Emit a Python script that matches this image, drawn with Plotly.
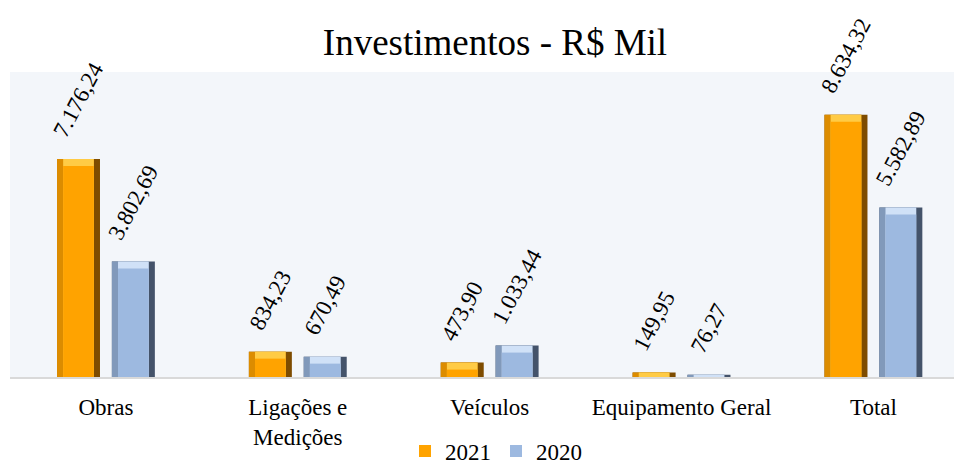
import plotly.graph_objects as go

# dados
categorias = ["Obras", "Ligações e<br>Medições", "Veículos", "Equipamento Geral", "Total"]
valores_2021 = [7176.24, 834.23, 473.90, 149.95, 8634.32]
valores_2020 = [3802.69, 670.49, 1033.44, 76.27, 5582.89]


def fmt_br(v):
    # 7176.24 -> 7.176,24
    return f"{v:,.2f}".replace(",", "X").replace(".", ",").replace("X", ".")


FONTE = "Liberation Serif, Times New Roman, serif"
W = 0.224      # largura da barra
B = 0.032      # bisel lateral
T = 230        # bisel do topo (unidades do eixo y)
G = 480        # folga entre barra e rótulo (unidades do eixo y)

series = [
    ("2021", valores_2021, -0.255,
     dict(borda="#7E4C00", lado="#DC8C00", topo="#FFCB45", face="#FFA300")),
    ("2020", valores_2020, 0.031,
     dict(borda="#44536A", lado="#8199BA", topo="#D0E1F7", face="#9DB9E0")),
]

fig = go.Figure()

for nome, vals, off, cor in series:
    # sombra / borda direita
    fig.add_trace(go.Bar(
        x=categorias, y=vals, offset=off, width=W,
        marker=dict(color=cor["borda"], line=dict(width=0)),
        showlegend=False, legendgroup=nome, hoverinfo="skip",
    ))
    # lado esquerdo
    fig.add_trace(go.Bar(
        x=categorias, y=vals, offset=off, width=W - B,
        marker=dict(color=cor["lado"], line=dict(width=0)),
        showlegend=False, legendgroup=nome, hoverinfo="skip",
    ))
    # bisel do topo
    fig.add_trace(go.Bar(
        x=categorias, y=vals, offset=off + B, width=W - 2 * B,
        marker=dict(color=cor["topo"], line=dict(width=0)),
        showlegend=False, legendgroup=nome, hoverinfo="skip",
    ))
    # face
    fig.add_trace(go.Bar(
        x=categorias, y=[max(v - T, 0) for v in vals], offset=off + B, width=W - 2 * B,
        marker=dict(color=cor["face"], line=dict(width=0)),
        name=nome, showlegend=True, legendgroup=nome,
    ))
    # rótulos (barra invisível um pouco mais alta)
    fig.add_trace(go.Bar(
        x=categorias, y=[v + G for v in vals], offset=off, width=W,
        marker=dict(color="rgba(0,0,0,0)", line=dict(width=0)),
        text=[fmt_br(v) for v in vals],
        textposition="outside", textangle=-62,
        textfont=dict(family=FONTE, size=23, color="black"),
        cliponaxis=False, constraintext="none",
        showlegend=False, legendgroup=nome, hoverinfo="skip",
    ))

fig.update_layout(
    width=954, height=464,
    margin=dict(l=10, r=0, t=72, b=87),
    barmode="overlay",
    paper_bgcolor="white",
    plot_bgcolor="#F3F6FA",
    font=dict(family=FONTE, color="black", size=23),
    title=dict(
        text="Investimentos - R$ Mil",
        font=dict(family=FONTE, size=37, color="black"),
        x=495 / 954, xref="container", xanchor="center",
        y=1 - 42 / 464, yref="container", yanchor="middle",
    ),
    legend=dict(
        orientation="h",
        x=405 / 954, xref="container", xanchor="left",
        y=1 - 451 / 464, yref="container", yanchor="middle",
        font=dict(family=FONTE, size=23, color="black"),
        bgcolor="rgba(0,0,0,0)",
        itemwidth=30,
    ),
    xaxis=dict(
        range=[-0.5, 4.42],
        showline=True, linecolor="#D9D9D9", linewidth=2,
        showgrid=False, ticks="", ticklabelstandoff=8,
        tickfont=dict(family=FONTE, size=23, color="black"),
        automargin=False,
    ),
    yaxis=dict(
        range=[0, 10040],
        showticklabels=False, showgrid=False, zeroline=False, showline=False,
        automargin=False,
    ),
)

# sem margem no body para a figura ocupar a janela inteira
fig.write_html(
    "out.html",
    config={"displayModeBar": False},
    post_script="document.body.style.margin='0';",
)
